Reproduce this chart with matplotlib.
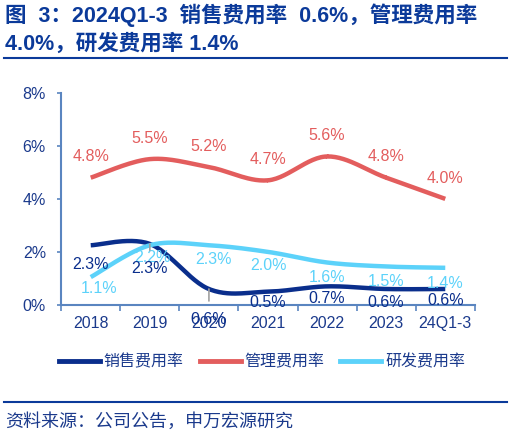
import numpy as np
import matplotlib
matplotlib.use("Agg")
import matplotlib.pyplot as plt
from matplotlib.lines import Line2D

plt.rcParams["font.family"] = ["Liberation Sans", "Noto Sans CJK SC"]

# ── Data ─────────────────────────────────────────────────────────────────────
categories = ["2018", "2019", "2020", "2021", "2022", "2023", "24Q1-3"]
sales_rate = [2.25, 2.3, 0.6, 0.5, 0.7, 0.6, 0.6]
admin_rate = [4.8, 5.5, 5.2, 4.7, 5.6, 4.8, 4.0]
rnd_rate = [1.05, 2.25, 2.25, 2.0, 1.6, 1.45, 1.4]

sales_labels = ["2.3%", "2.3%", "0.6%", "0.5%", "0.7%", "0.6%", "0.6%"]
admin_labels = ["4.8%", "5.5%", "5.2%", "4.7%", "5.6%", "4.8%", "4.0%"]
rnd_labels = ["1.1%", "2.2%", "2.3%", "2.0%", "1.6%", "1.5%", "1.4%"]
series_names = ["销售费用率", "管理费用率", "研发费用率"]

NAVY = "#0A2E8C"
RED = "#E35D5D"
CYAN = "#5CD2FA"
TEXT = "#1B3A8C"
AXIS = "#5A85C0"

# label offsets in points (dx, dy) -- layout only
SALES_OFF = [(0, -14), (0, -18), (0, -22), (0, -8), (0, -9), (0, -10), (0, -8)]
RND_OFF = [(6, -8), (2, -9), (3, -10), (0, -10), (0, -11), (0, -11), (0, -11)]
ADMIN_OFF = (0, 15)


def smooth(xs, ys, n=30):
    """Catmull-Rom spline through the points (Excel-like smoothing)."""
    xs = np.asarray(xs, float)
    ys = np.asarray(ys, float)
    px = np.concatenate([[xs[0]], xs, [xs[-1]]])
    py = np.concatenate([[ys[0]], ys, [ys[-1]]])
    out_x, out_y = [], []
    t = np.linspace(0, 1, n)
    for i in range(1, len(px) - 2):
        for arr, out in ((px, out_x), (py, out_y)):
            p0, p1, p2, p3 = arr[i - 1], arr[i], arr[i + 1], arr[i + 2]
            out.extend(0.5 * ((2 * p1) + (-p0 + p2) * t
                              + (2 * p0 - 5 * p1 + 4 * p2 - p3) * t ** 2
                              + (-p0 + 3 * p1 - 3 * p2 + p3) * t ** 3))
    return np.array(out_x), np.array(out_y)


fig = plt.figure(figsize=(5.1, 4.4), dpi=100)
ax = fig.add_axes([0.12, 0.307, 0.811, 0.482])

x = np.arange(len(categories))
for vals, color in ((sales_rate, NAVY), (admin_rate, RED), (rnd_rate, CYAN)):
    sx, sy = smooth(x, vals)
    ax.plot(sx, sy, color=color, lw=3.2, solid_capstyle="butt")

# data labels
lab_fs = 11.5
leader = dict(arrowstyle="-", color="#A0A0A0", lw=1.2, shrinkA=6, shrinkB=0)
for i in x:
    ax.annotate(admin_labels[i], (i, admin_rate[i]), xytext=ADMIN_OFF,
                textcoords="offset points", ha="center", va="center",
                color=RED, fontsize=lab_fs)
    ax.annotate(rnd_labels[i], (i, rnd_rate[i]), xytext=RND_OFF[i],
                textcoords="offset points", ha="center", va="center",
                color=CYAN, fontsize=lab_fs)
    ax.annotate(sales_labels[i], (i, sales_rate[i]), xytext=SALES_OFF[i],
                textcoords="offset points", ha="center", va="center",
                color=NAVY, fontsize=lab_fs,
                arrowprops=leader if i in (1, 2) else None,
                annotation_clip=False)

ax.set_xlim(-0.5, len(categories) - 0.5)
ax.set_ylim(0, 8)
ax.set_yticks([0, 2, 4, 6, 8])
ax.set_yticklabels(["0%", "2%", "4%", "6%", "8%"])
ax.set_xticks(x)
ax.set_xticklabels(categories)
ax.set_xticks(np.arange(-0.5, len(categories), 1), minor=True)
ax.tick_params(axis="x", which="major", length=0, pad=8, labelsize=11.5,
               labelcolor=TEXT)
ax.tick_params(axis="x", which="minor", length=4, color=AXIS, width=1.2)
ax.tick_params(axis="y", length=3, color=AXIS, width=1.2, pad=8,
               labelsize=11.5, labelcolor=TEXT)
for side in ("top", "right"):
    ax.spines[side].set_visible(False)
for side in ("left", "bottom"):
    ax.spines[side].set_color(AXIS)
    ax.spines[side].set_linewidth(1.5)

# legend
handles = [Line2D([0], [0], color=c, lw=3.5) for c in (NAVY, RED, CYAN)]
fig.legend(handles, series_names, loc="center", bbox_to_anchor=(0.514, 0.177),
           ncol=3, frameon=False, fontsize=11.5, handlelength=2.55,
           handletextpad=0.25, columnspacing=1.0, labelcolor=TEXT)

# title, rules and source
fig.text(0.01, 0.965, "图  3：2024Q1-3  销售费用率  0.6%，管理费用率",
         fontsize=15.5, fontweight="bold", color="#0B3A9A", va="center")
fig.text(0.01, 0.9, "4.0%，研发费用率 1.4%",
         fontsize=15.5, fontweight="bold", color="#0B3A9A", va="center")
fig.add_artist(Line2D([0.008, 0.995], [0.868, 0.868], color="#0B3A9A", lw=1.5))
fig.add_artist(Line2D([0.008, 0.995], [0.086, 0.086], color="#0B3A9A", lw=1.5))
fig.text(0.01, 0.04, "资料来源：公司公告，申万宏源研究",
         fontsize=13, color=TEXT, va="center")

fig.savefig("out.png", dpi=100)
